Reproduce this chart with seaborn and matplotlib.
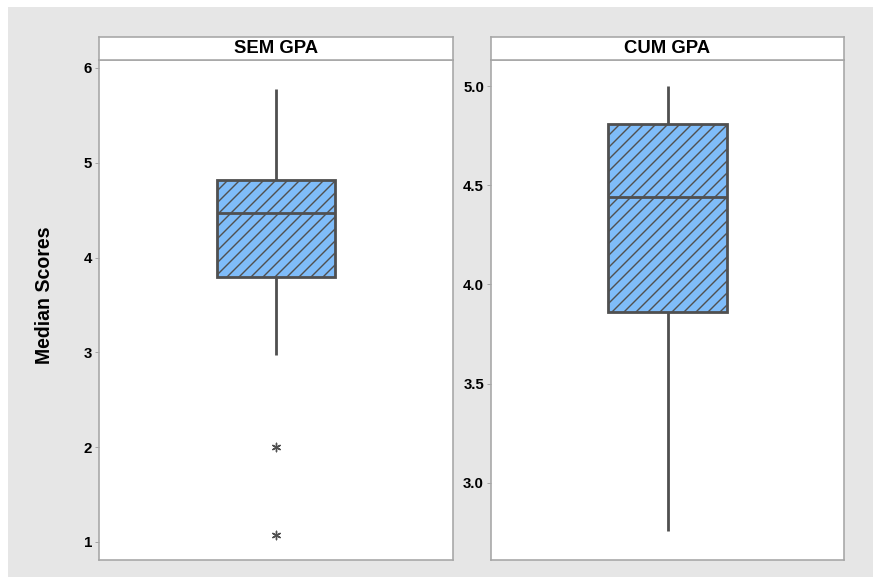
import matplotlib
matplotlib.use("Agg")
import matplotlib.pyplot as plt
from matplotlib.patches import Rectangle
import seaborn as sns

# Five-number summaries (lower whisker, Q1, median, Q3, upper whisker)
sem_gpa_summary = [2.97, 3.80, 4.47, 4.82, 5.78]
cum_gpa_summary = [2.76, 3.86, 4.44, 4.81, 5.00]
# Points beyond the whiskers
sem_gpa_outliers = [2.00, 1.07]
cum_gpa_outliers = []

panel_titles = ["SEM GPA", "CUM GPA"]
sem_ticks = [1, 2, 3, 4, 5, 6]
cum_ticks = [3.0, 3.5, 4.0, 4.5, 5.0]
y_label = "Median Scores"

sns.set_theme(style="white")
plt.rcParams["font.family"] = ["Liberation Sans", "DejaVu Sans"]
plt.rcParams["hatch.linewidth"] = 1.4

FILL = "#7fbcf9"
EDGE = "#505050"
SPINE = "#a6a6a6"
BG = "#e6e6e6"

W, H = 873, 577
DPI = 72
fig = plt.figure(figsize=(W / DPI, H / DPI), dpi=DPI, facecolor="white")
fig.patches.append(Rectangle((8 / W, 0), (W - 8) / W, (H - 7) / H,
                             transform=fig.transFigure, facecolor=BG,
                             edgecolor="none", zorder=-10))


def px_box(left, right, top, bottom):
    return [left / W, (H - bottom) / H, (right - left) / W, (bottom - top) / H]


def draw_panel(left, right, summary, outliers, ticks, ylim, title, fmt):
    ax = fig.add_axes(px_box(left, right, 60, 560))
    ax.set_facecolor("white")
    sns.boxplot(y=summary, ax=ax, width=0.336, color=FILL, linecolor=EDGE,
                linewidth=2.8, showcaps=False, fliersize=0, saturation=1,
                whis=1.5)
    for p in ax.patches:
        p.set_hatch("//")
        p.set_edgecolor(EDGE)
    if outliers:
        sns.scatterplot(x=[0] * len(outliers), y=outliers, ax=ax,
                        marker=(6, 2, 0), s=70, color=EDGE, linewidth=1.4)
    ax.set_xlim(-0.5, 0.5)
    ax.set_ylim(*ylim)
    ax.set_xticks([])
    ax.set_yticks(ticks)
    ax.set_yticklabels([fmt.format(t) for t in ticks])
    ax.set_xlabel("")
    ax.set_ylabel("")
    ax.tick_params(axis="y", left=True, length=4, width=1, color=SPINE,
                   pad=3, labelsize=15, labelcolor="black")
    for lbl in ax.get_yticklabels():
        lbl.set_fontweight("bold")
    for s in ax.spines.values():
        s.set_color(SPINE)
        s.set_linewidth(1.6)

    hdr = fig.add_axes(px_box(left, right, 37, 60))
    hdr.set_facecolor("white")
    hdr.set_xticks([])
    hdr.set_yticks([])
    for s in hdr.spines.values():
        s.set_color(SPINE)
        s.set_linewidth(1.6)
    hdr.text(0.5, 0.5, title, ha="center", va="center", fontsize=18.5,
             fontweight="bold", color="black", transform=hdr.transAxes)
    return ax


draw_panel(99, 453, sem_gpa_summary, sem_gpa_outliers, sem_ticks,
           (0.81, 6.084), panel_titles[0], "{:d}")
draw_panel(491, 844, cum_gpa_summary, cum_gpa_outliers, cum_ticks,
           (2.612, 5.131), panel_titles[1], "{:.1f}")

fig.text(45 / W, (H - 295) / H, y_label, rotation=90, ha="center",
         va="center", fontsize=19.5, fontweight="bold", color="black")

fig.savefig("out.png", dpi=DPI, facecolor=fig.get_facecolor())
